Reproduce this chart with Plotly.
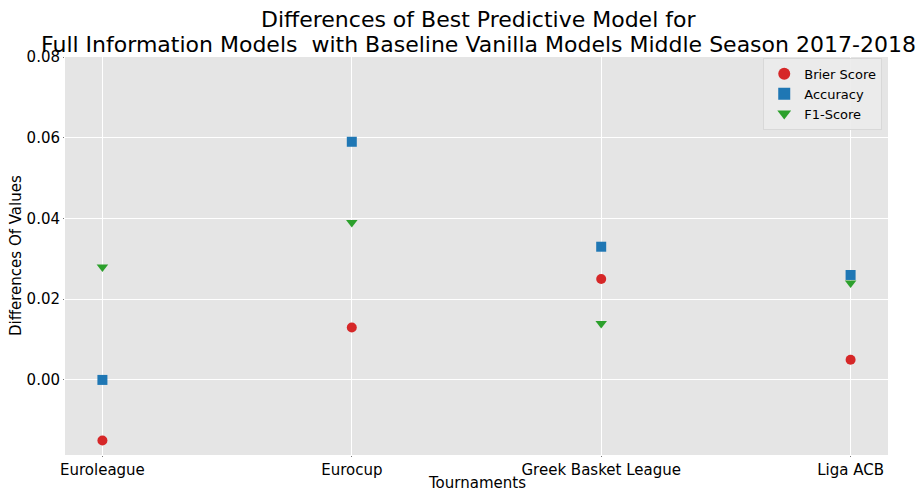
import plotly.graph_objects as go

tournaments = ["Euroleague", "Eurocup", "Greek Basket League", "Liga ACB"]
brier = [-0.015, 0.013, 0.025, 0.005]
accuracy = [0.000, 0.059, 0.033, 0.026]
f1 = [0.028, 0.039, 0.014, 0.024]
yticks = [0.00, 0.02, 0.04, 0.06, 0.08]
title_line1 = "Differences of Best Predictive Model for"
title_line2 = "Full Information Models  with Baseline Vanilla Models Middle Season 2017-2018"

xi = list(range(len(tournaments)))
fig = go.Figure()
series = [
    ("Brier Score", brier, "circle", "#d62728"),
    ("Accuracy", accuracy, "square", "#1f77b4"),
    ("F1-Score", f1, "triangle-down", "#2ca02c"),
]
for name, vals, sym, col in series:
    fig.add_trace(go.Scatter(x=xi, y=vals, mode="markers", name=name,
                             marker=dict(symbol=sym, color=col, size=10, line=dict(width=0))))

fig.update_layout(
    width=921, height=492,
    margin=dict(l=65, r=33, t=57, b=37),
    paper_bgcolor="white", plot_bgcolor="#e5e5e5",
    font=dict(family="DejaVu Sans", color="black"),
    showlegend=True,
    legend=dict(x=0.993, xanchor="right", y=0.998, yanchor="top",
                bgcolor="rgba(235,235,235,0.9)", bordercolor="#d8d8d8", borderwidth=1,
                font=dict(size=13), itemsizing="constant", tracegroupgap=0),
    annotations=[
        dict(text=title_line1, xref="paper", yref="paper", x=0.502, y=1.0,
             xanchor="center", yanchor="middle", showarrow=False, yshift=38,
             font=dict(size=22, family="DejaVu Sans")),
        dict(text=title_line2, xref="paper", yref="paper", x=0.502, y=1.0,
             xanchor="center", yanchor="middle", showarrow=False, yshift=13,
             font=dict(size=22, family="DejaVu Sans")),
        dict(text="Tournaments", xref="paper", yref="paper", x=0.5, y=0,
             xanchor="center", yanchor="middle", showarrow=False, yshift=-28,
             font=dict(size=15)),
        dict(text="Differences Of Values", xref="paper", yref="paper", x=0, y=0.5,
             xanchor="center", yanchor="middle", showarrow=False, xshift=-49, textangle=-90,
             font=dict(size=15)),
    ],
)
fig.update_xaxes(range=[-0.15, 3.15], tickmode="array", tickvals=xi, ticktext=tournaments,
                 showgrid=True, gridcolor="white", gridwidth=1, zeroline=False, automargin=False,
                 ticks="outside", ticklen=1, tickcolor="#777", tickfont=dict(size=15))
fig.update_yaxes(range=[-0.0186, 0.08], tickmode="array", tickvals=yticks,
                 ticktext=[f"{v:.2f}" for v in yticks],
                 showgrid=True, gridcolor="white", gridwidth=1, zeroline=False, automargin=False,
                 ticks="outside", ticklen=1, tickcolor="#777", tickfont=dict(size=15))
fig.write_html("out.html")
